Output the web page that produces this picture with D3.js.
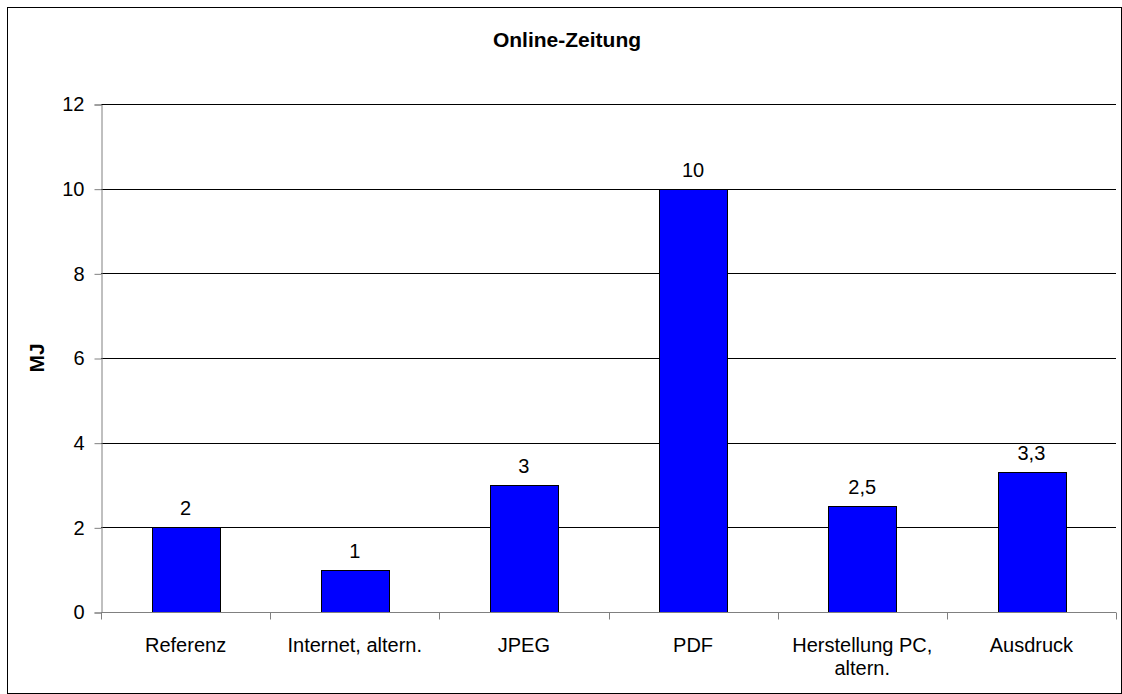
<!DOCTYPE html>
<html>
<head>
<meta charset="utf-8">
<script src="https://cdn.jsdelivr.net/npm/d3@7"></script>
<style>
  body { margin: 0; background: #fff; }
  svg text { font-family: "Liberation Sans", Arial, sans-serif; fill: #000; }
</style>
</head>
<body>
<svg width="1122" height="694"></svg>
<script>
var categories = ["Referenz", "Internet, altern.", "JPEG", "PDF", "Herstellung PC, altern.", "Ausdruck"];
var catLines = [["Referenz"], ["Internet, altern."], ["JPEG"], ["PDF"], ["Herstellung PC,", "altern."], ["Ausdruck"]];
var values = [2, 1, 3, 10, 2.5, 3.3];
var valueLabels = ["2", "1", "3", "10", "2,5", "3,3"];
var yTicks = [0, 2, 4, 6, 8, 10, 12];

var svg = d3.select("svg");
var plotLeft = 101, plotRight = 1116, plotTop = 104, plotBottom = 612;
var fs = "20px";

// outer frame
svg.append("rect").attr("x", 7.5).attr("y", 7.5).attr("width", 1114).attr("height", 686)
  .attr("fill", "none").attr("stroke", "#000").attr("stroke-width", 1);

var x = d3.scaleBand().domain(categories).range([plotLeft, plotRight]);
var y = d3.scaleLinear().domain([0, 12]).range([plotBottom, plotTop]);

// gridlines
svg.append("g").selectAll("line").data(yTicks.filter(function(d){ return d > 0; })).enter()
  .append("line")
  .attr("x1", plotLeft).attr("x2", plotRight)
  .attr("y1", function(d){ return Math.round(y(d)) + 0.5; })
  .attr("y2", function(d){ return Math.round(y(d)) + 0.5; })
  .attr("stroke", "#000").attr("stroke-width", 1);

// bars
var bw = x.bandwidth() * 0.4;
svg.append("g").selectAll("rect").data(values).enter()
  .append("rect")
  .attr("x", function(d, i){ return Math.round(x(categories[i]) + (x.bandwidth() - bw) / 2) + 0.5; })
  .attr("y", function(d){ return Math.round(y(d)) + 0.5; })
  .attr("width", Math.round(bw))
  .attr("height", function(d){ return Math.round(y(0)) - Math.round(y(d)); })
  .attr("fill", "#0000ff").attr("stroke", "#000").attr("stroke-width", 1);

// value labels
svg.append("g").selectAll("text").data(values).enter()
  .append("text")
  .attr("x", function(d, i){ return x(categories[i]) + x.bandwidth() / 2; })
  .attr("y", function(d){ return y(d) - 12; })
  .attr("text-anchor", "middle").attr("font-size", fs)
  .text(function(d, i){ return valueLabels[i]; });

// y axis
var yAxis = d3.axisLeft(y).tickValues(yTicks).tickSize(7).tickPadding(10)
  .tickFormat(function(d){ return d; });
var yG = svg.append("g").attr("transform", "translate(" + (plotLeft + 0.5) + ",0.5)").call(yAxis);
yG.select(".domain").attr("stroke", "#808080");
yG.selectAll("line").attr("stroke", "#808080");
yG.selectAll("text").attr("font-size", fs).attr("font-family", "Liberation Sans, Arial, sans-serif").attr("fill", "#000");

// x axis
var xG = svg.append("g").attr("transform", "translate(0," + (Math.round(y(0)) + 0.5) + ")");
xG.append("line").attr("x1", plotLeft).attr("x2", plotRight).attr("stroke", "#808080");
var bounds = categories.map(function(c){ return x(c); }).concat([plotRight]);
xG.selectAll("line.tick").data(bounds).enter().append("line")
  .attr("class", "tick")
  .attr("x1", function(d){ return Math.round(d) + 0.5; })
  .attr("x2", function(d){ return Math.round(d) + 0.5; })
  .attr("y1", 0).attr("y2", 7).attr("stroke", "#808080");
var lab = xG.selectAll("text").data(catLines).enter().append("text")
  .attr("text-anchor", "middle").attr("font-size", fs)
  .attr("x", function(d, i){ return x(categories[i]) + x.bandwidth() / 2; })
  .attr("y", 39);
lab.selectAll("tspan").data(function(d){ return d; }).enter().append("tspan")
  .attr("x", function(){ return d3.select(this.parentNode).attr("x"); })
  .attr("dy", function(d, i){ return i === 0 ? 0 : 23; })
  .text(function(d){ return d; });

// title
svg.append("text").attr("x", 567).attr("y", 47).attr("text-anchor", "middle")
  .attr("font-size", "21px").attr("font-weight", "bold").text("Online-Zeitung");

// y label
svg.append("text").attr("transform", "translate(44,358) rotate(-90)")
  .attr("text-anchor", "middle").attr("font-size", "21px").attr("font-weight", "bold").text("MJ");
</script>
</body>
</html>
